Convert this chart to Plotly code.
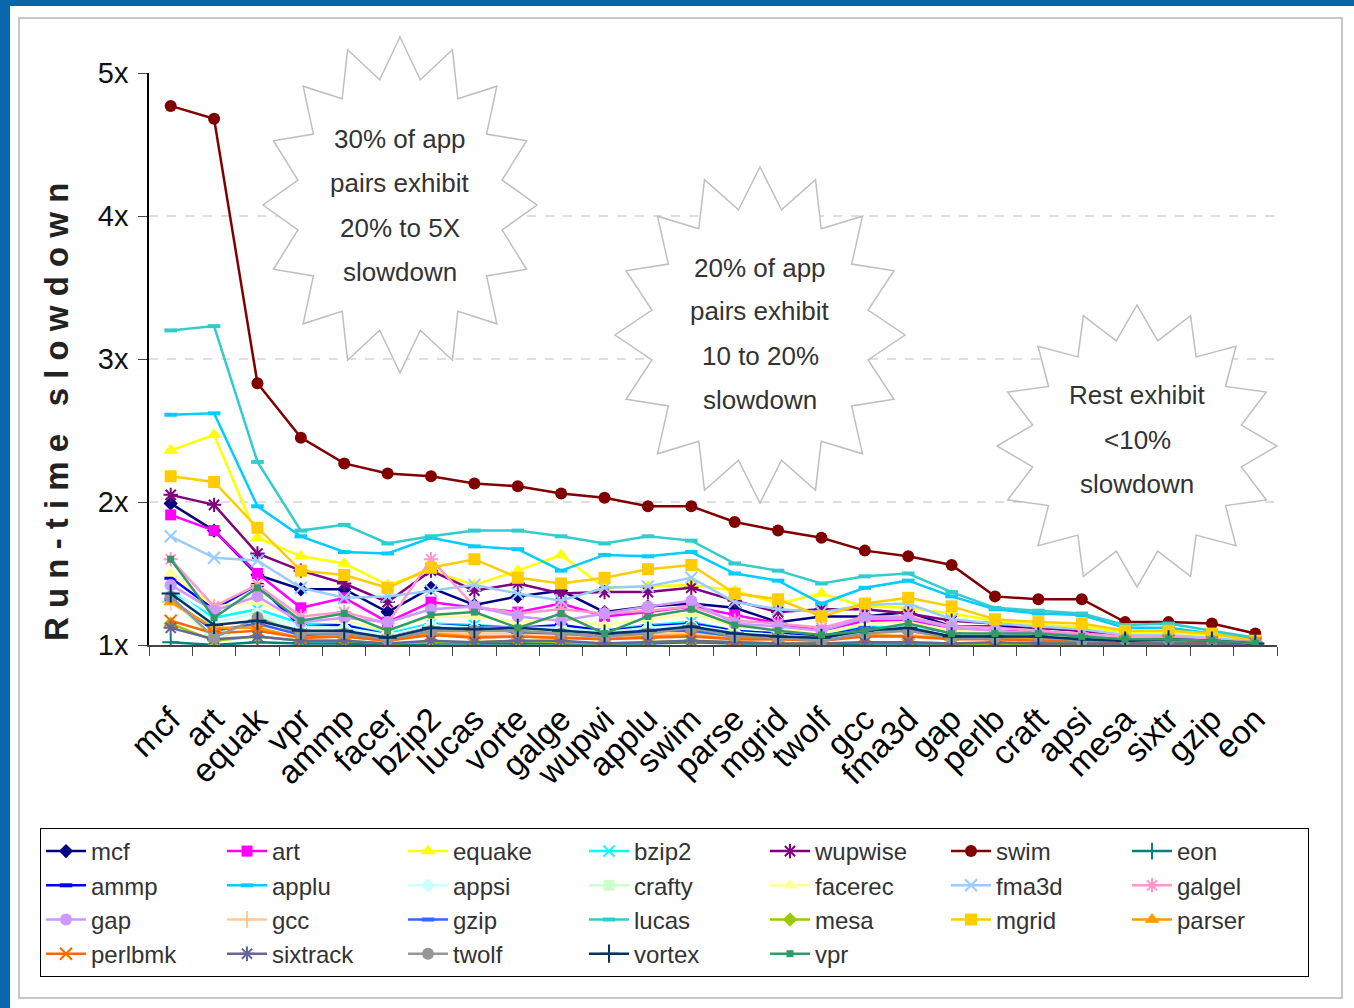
import math
import plotly.graph_objects as go

# ---------------- data ----------------
categories = ["mcf", "art", "equak", "vpr", "ammp", "facer", "bzip2", "lucas", "vorte", "galge",
              "wupwi", "applu", "swim", "parse", "mgrid", "twolf", "gcc", "fma3d", "gap", "perlb",
              "craft", "apsi", "mesa", "sixtr", "gzip", "eon"]

mcf      = [1.99, 1.80, 1.49, 1.39, 1.39, 1.23, 1.40, 1.28, 1.34, 1.38, 1.23, 1.27, 1.29, 1.26, 1.16, 1.20, 1.20, 1.23, 1.13, 1.13, 1.12, 1.10, 1.06, 1.06, 1.04, 1.02]
art      = [1.91, 1.80, 1.50, 1.26, 1.33, 1.16, 1.30, 1.26, 1.23, 1.29, 1.20, 1.23, 1.27, 1.21, 1.15, 1.10, 1.17, 1.17, 1.12, 1.10, 1.09, 1.07, 1.05, 1.05, 1.03, 1.01]
equake   = [2.36, 2.47, 1.75, 1.62, 1.57, 1.42, 1.52, 1.42, 1.52, 1.63, 1.40, 1.41, 1.42, 1.38, 1.29, 1.36, 1.27, 1.26, 1.22, 1.17, 1.14, 1.13, 1.09, 1.09, 1.07, 1.03]
bzip2    = [1.38, 1.19, 1.25, 1.15, 1.14, 1.08, 1.15, 1.14, 1.12, 1.13, 1.10, 1.14, 1.16, 1.10, 1.08, 1.06, 1.13, 1.12, 1.08, 1.07, 1.06, 1.05, 1.04, 1.04, 1.03, 1.01]
wupwise  = [2.05, 1.98, 1.64, 1.52, 1.43, 1.30, 1.52, 1.38, 1.43, 1.36, 1.37, 1.37, 1.40, 1.31, 1.23, 1.25, 1.25, 1.22, 1.17, 1.15, 1.12, 1.10, 1.06, 1.06, 1.04, 1.02]
swim     = [4.77, 4.68, 2.83, 2.45, 2.27, 2.20, 2.18, 2.13, 2.11, 2.06, 2.03, 1.97, 1.97, 1.86, 1.80, 1.75, 1.66, 1.62, 1.56, 1.34, 1.32, 1.32, 1.16, 1.16, 1.15, 1.08]
eon      = [1.02, 1.00, 1.02, 1.01, 1.01, 1.00, 1.01, 1.01, 1.01, 1.01, 1.01, 1.01, 1.02, 1.01, 1.01, 1.00, 1.01, 1.01, 1.01, 1.01, 1.01, 1.01, 1.00, 1.01, 1.01, 1.00]
ammp     = [1.47, 1.25, 1.42, 1.13, 1.14, 1.07, 1.14, 1.13, 1.12, 1.14, 1.10, 1.13, 1.15, 1.10, 1.08, 1.06, 1.12, 1.11, 1.08, 1.07, 1.06, 1.05, 1.04, 1.04, 1.03, 1.01]
applu    = [2.61, 2.62, 1.97, 1.76, 1.65, 1.64, 1.75, 1.69, 1.67, 1.52, 1.63, 1.62, 1.65, 1.50, 1.45, 1.29, 1.40, 1.45, 1.34, 1.25, 1.22, 1.21, 1.12, 1.12, 1.08, 1.04]
appsi    = [1.40, 1.16, 1.22, 1.13, 1.12, 1.07, 1.14, 1.12, 1.12, 1.12, 1.09, 1.12, 1.14, 1.09, 1.07, 1.05, 1.11, 1.12, 1.07, 1.07, 1.06, 1.05, 1.04, 1.04, 1.03, 1.01]
crafty   = [1.35, 1.01, 1.21, 1.09, 1.09, 1.05, 1.11, 1.10, 1.10, 1.10, 1.07, 1.09, 1.12, 1.07, 1.05, 1.04, 1.09, 1.10, 1.06, 1.06, 1.05, 1.04, 1.03, 1.03, 1.02, 1.01]
facerec  = [1.50, 1.27, 1.30, 1.18, 1.17, 1.10, 1.20, 1.20, 1.16, 1.18, 1.14, 1.18, 1.22, 1.13, 1.11, 1.08, 1.15, 1.16, 1.10, 1.09, 1.08, 1.06, 1.05, 1.05, 1.03, 1.02]
fma3d    = [1.76, 1.61, 1.59, 1.40, 1.33, 1.34, 1.38, 1.42, 1.36, 1.31, 1.40, 1.41, 1.47, 1.30, 1.25, 1.23, 1.28, 1.29, 1.18, 1.15, 1.13, 1.11, 1.07, 1.07, 1.05, 1.02]
galgel   = [1.60, 1.27, 1.42, 1.20, 1.23, 1.15, 1.60, 1.27, 1.22, 1.25, 1.22, 1.24, 1.27, 1.17, 1.15, 1.12, 1.20, 1.20, 1.13, 1.12, 1.10, 1.08, 1.06, 1.06, 1.04, 1.02]
gap      = [1.42, 1.24, 1.34, 1.16, 1.19, 1.16, 1.25, 1.27, 1.20, 1.17, 1.22, 1.27, 1.31, 1.15, 1.13, 1.10, 1.19, 1.19, 1.12, 1.10, 1.08, 1.06, 1.04, 1.05, 1.03, 1.02]
gcc      = [1.30, 1.10, 1.14, 1.08, 1.07, 1.04, 1.09, 1.08, 1.08, 1.07, 1.05, 1.07, 1.09, 1.05, 1.05, 1.03, 1.07, 1.07, 1.05, 1.05, 1.04, 1.03, 1.02, 1.03, 1.02, 1.01]
gzip     = [1.32, 1.10, 1.15, 1.07, 1.08, 1.04, 1.10, 1.12, 1.09, 1.08, 1.06, 1.10, 1.10, 1.06, 1.05, 1.04, 1.12, 1.10, 1.06, 1.06, 1.05, 1.04, 1.03, 1.03, 1.02, 1.01]
lucas    = [3.20, 3.23, 2.28, 1.80, 1.84, 1.71, 1.76, 1.80, 1.80, 1.76, 1.71, 1.76, 1.73, 1.57, 1.52, 1.43, 1.48, 1.50, 1.37, 1.26, 1.24, 1.22, 1.14, 1.15, 1.10, 1.05]
mesa     = [1.15, 1.03, 1.06, 1.03, 1.03, 1.01, 1.02, 1.02, 1.03, 1.02, 1.01, 1.02, 1.03, 1.02, 1.01, 1.01, 1.02, 1.02, 1.01, 1.01, 1.01, 1.01, 1.01, 1.01, 1.01, 1.00]
mgrid    = [2.18, 2.14, 1.82, 1.52, 1.49, 1.40, 1.54, 1.60, 1.47, 1.43, 1.47, 1.53, 1.56, 1.36, 1.32, 1.20, 1.29, 1.33, 1.27, 1.18, 1.16, 1.15, 1.10, 1.10, 1.08, 1.03]
parser   = [1.30, 1.12, 1.12, 1.05, 1.06, 1.03, 1.08, 1.06, 1.06, 1.05, 1.04, 1.06, 1.07, 1.04, 1.04, 1.03, 1.07, 1.06, 1.05, 1.04, 1.04, 1.03, 1.02, 1.03, 1.02, 1.01]
perlbmk  = [1.17, 1.08, 1.10, 1.05, 1.06, 1.03, 1.07, 1.05, 1.06, 1.05, 1.04, 1.05, 1.06, 1.04, 1.04, 1.03, 1.06, 1.06, 1.04, 1.04, 1.03, 1.03, 1.02, 1.03, 1.02, 1.01]
sixtrack = [1.12, 1.04, 1.06, 1.03, 1.03, 1.01, 1.03, 1.02, 1.03, 1.03, 1.01, 1.02, 1.03, 1.02, 1.01, 1.01, 1.02, 1.02, 1.01, 1.02, 1.01, 1.01, 1.01, 1.01, 1.01, 1.00]
twolf    = [1.34, 1.05, 1.19, 1.08, 1.08, 1.04, 1.10, 1.10, 1.10, 1.08, 1.06, 1.08, 1.12, 1.06, 1.05, 1.03, 1.08, 1.10, 1.05, 1.05, 1.06, 1.03, 1.04, 1.04, 1.03, 1.02]
vortex   = [1.36, 1.14, 1.17, 1.10, 1.10, 1.05, 1.12, 1.11, 1.12, 1.10, 1.08, 1.10, 1.13, 1.08, 1.06, 1.05, 1.10, 1.12, 1.06, 1.06, 1.06, 1.04, 1.03, 1.04, 1.03, 1.01]
vpr      = [1.60, 1.19, 1.40, 1.17, 1.22, 1.10, 1.21, 1.23, 1.12, 1.22, 1.08, 1.20, 1.25, 1.14, 1.10, 1.07, 1.10, 1.15, 1.08, 1.08, 1.08, 1.06, 1.04, 1.04, 1.03, 1.01]

y_tick_vals = [1, 2, 3, 4, 5]
y_tick_text = ["1x", "2x", "3x", "4x", "5x"]
grid_vals = [2, 3, 4]

callouts = [
    ["30% of app", "pairs exhibit", "20% to 5X", "slowdown"],
    ["20% of app", "pairs exhibit", "10 to 20%", "slowdown"],
    ["Rest exhibit", "<10%", "slowdown"],
]

# ---------------- styles ----------------
series = [
    ("mcf", mcf, "#000080", "diamond", 11),
    ("art", art, "#FF00FF", "square", 11),
    ("equake", equake, "#FFFF00", "triangle-up", 13),
    ("bzip2", bzip2, "#00FFFF", "x-thin-open", 11),
    ("wupwise", wupwise, "#800080", "asterisk-open", 12),
    ("swim", swim, "#800000", "circle", 12),
    ("eon", eon, "#008080", "cross-thin-open", 12),
    ("ammp", ammp, "#0000FF", "line-ew-open", 9),
    ("applu", applu, "#00CCFF", "line-ew-open", 9),
    ("appsi", appsi, "#CCFFFF", "diamond", 11),
    ("crafty", crafty, "#CCFFCC", "square", 11),
    ("facerec", facerec, "#FFFF99", "triangle-up", 13),
    ("fma3d", fma3d, "#99CCFF", "x-thin-open", 12),
    ("galgel", galgel, "#FF99CC", "asterisk-open", 12),
    ("gap", gap, "#CC99FF", "circle", 12),
    ("gcc", gcc, "#FFCC99", "cross-thin-open", 12),
    ("gzip", gzip, "#3366FF", "line-ew-open", 9),
    ("lucas", lucas, "#33CCCC", "line-ew-open", 9),
    ("mesa", mesa, "#99CC00", "diamond", 11),
    ("mgrid", mgrid, "#FFCC00", "square", 12),
    ("parser", parser, "#FF9900", "triangle-up", 13),
    ("perlbmk", perlbmk, "#FF6600", "x-thin-open", 12),
    ("sixtrack", sixtrack, "#666699", "asterisk-open", 12),
    ("twolf", twolf, "#969696", "circle", 12),
    ("vortex", vortex, "#003366", "cross-thin-open", 13),
    ("vpr", vpr, "#339966", "square", 7),
]

NARROW = "Liberation Sans Narrow, Arial Narrow, Liberation Sans, Arial, sans-serif"
SANS = "Liberation Sans, Arial, sans-serif"

W, H = 1354, 1008
L, T, R, B = 149, 73, 1277, 645
PW, PH = R - L, B - T


def px(x):
    return (x - L) / PW


def py(y):
    return (B - y) / PH


fig = go.Figure()
for name, vals, color, sym, size in series:
    open_sym = sym.endswith("-open")
    fig.add_trace(go.Scatter(
        x=categories, y=vals, name=name, mode="lines+markers",
        line=dict(color=color, width=2.5),
        marker=dict(symbol=sym, size=size, color=color,
                    line=dict(color=color, width=(4 if sym.startswith("line") else 2) if open_sym else 0)),
    ))

shapes = []
# slide border
shapes.append(dict(type="rect", xref="paper", yref="paper", x0=px(0), x1=px(10), y0=py(W), y1=py(0),
                   fillcolor="#0A66AA", line=dict(width=0), layer="below"))
shapes.append(dict(type="rect", xref="paper", yref="paper", x0=px(0), x1=px(W), y0=py(6), y1=py(0),
                   fillcolor="#0A66AA", line=dict(width=0), layer="below"))
shapes.append(dict(type="rect", xref="paper", yref="paper", x0=px(19), x1=px(1342), y0=py(998), y1=py(18),
                   fillcolor="rgba(0,0,0,0)", line=dict(color="#C8C8C8", width=2), layer="below"))
# gridlines
for g in grid_vals:
    shapes.append(dict(type="line", xref="paper", yref="y", x0=0, x1=1, y0=g, y1=g,
                       line=dict(color="#C0C0C0", width=1.2, dash="dash"), layer="below"))

# starbursts
stars = [(400, 205, 137, 168), (760, 335, 145, 168), (1137, 446, 140, 141)]
for cx, cy, rx, ry in stars:
    pts = []
    for k in range(32):
        a = math.radians(-90 + k * 11.25)
        r = 1.0 if k % 2 == 0 else 0.76
        pts.append((px(cx + rx * r * math.cos(a)), py(cy + ry * r * math.sin(a))))
    path = "M " + " L ".join(f"{x:.5f},{y:.5f}" for x, y in pts) + " Z"
    shapes.append(dict(type="path", xref="paper", yref="paper", path=path,
                       fillcolor="white", line=dict(color="#BFBFBF", width=1.5), layer="above"))

annotations = []
line_y = [[139, 183, 228, 272], [268, 311, 356, 400], [395, 440, 484]]
for (cx, cy, rx, ry), lines, ys in zip(stars, callouts, line_y):
    for txt, yy in zip(lines, ys):
        annotations.append(dict(text=txt, xref="paper", yref="paper", x=px(cx), y=py(yy),
                                xanchor="center", yanchor="middle", showarrow=False,
                                font=dict(family=NARROW, size=26, color="#333333")))

annotations.append(dict(text="R u n - t i m e   s l o w d o w n", xref="paper", yref="paper",
                        x=px(56), y=py(412), xanchor="center", yanchor="middle", textangle=-90,
                        showarrow=False, font=dict(family=SANS, size=33, color="#222222", weight="bold")))

fig.update_layout(
    width=W, height=H,
    margin=dict(l=L, r=W - R, t=T, b=H - B, autoexpand=False),
    paper_bgcolor="white", plot_bgcolor="white",
    showlegend=True,
    legend=dict(orientation="h", x=px(40), y=py(828), xanchor="left", yanchor="top",
                bordercolor="#000000", borderwidth=1, bgcolor="white",
                font=dict(family=NARROW, size=24, color="#333333"),
                itemwidth=40, entrywidth=126, entrywidthmode="pixels", tracegroupgap=0,
                traceorder="normal"),
    shapes=shapes, annotations=annotations,
    xaxis=dict(type="category", range=[-0.5, len(categories) - 0.5], showgrid=False,
               showline=True, linecolor="#444444", linewidth=1.5,
               ticks="outside", ticklen=9, tickcolor="#444444", tickson="boundaries",
               tickangle=-45, ticklabelstandoff=40,
               tickfont=dict(family=NARROW, size=33, color="#000000"), zeroline=False),
    yaxis=dict(range=[1, 5], tickvals=y_tick_vals, ticktext=y_tick_text, showgrid=False,
               showline=True, linecolor="#000000", linewidth=1.5, ticks="outside", ticklen=9,
               tickcolor="#444444", tickfont=dict(family=SANS, size=29, color="#111111"),
               zeroline=False, ticklabelstandoff=4),
)

fig.write_html("out.html")
